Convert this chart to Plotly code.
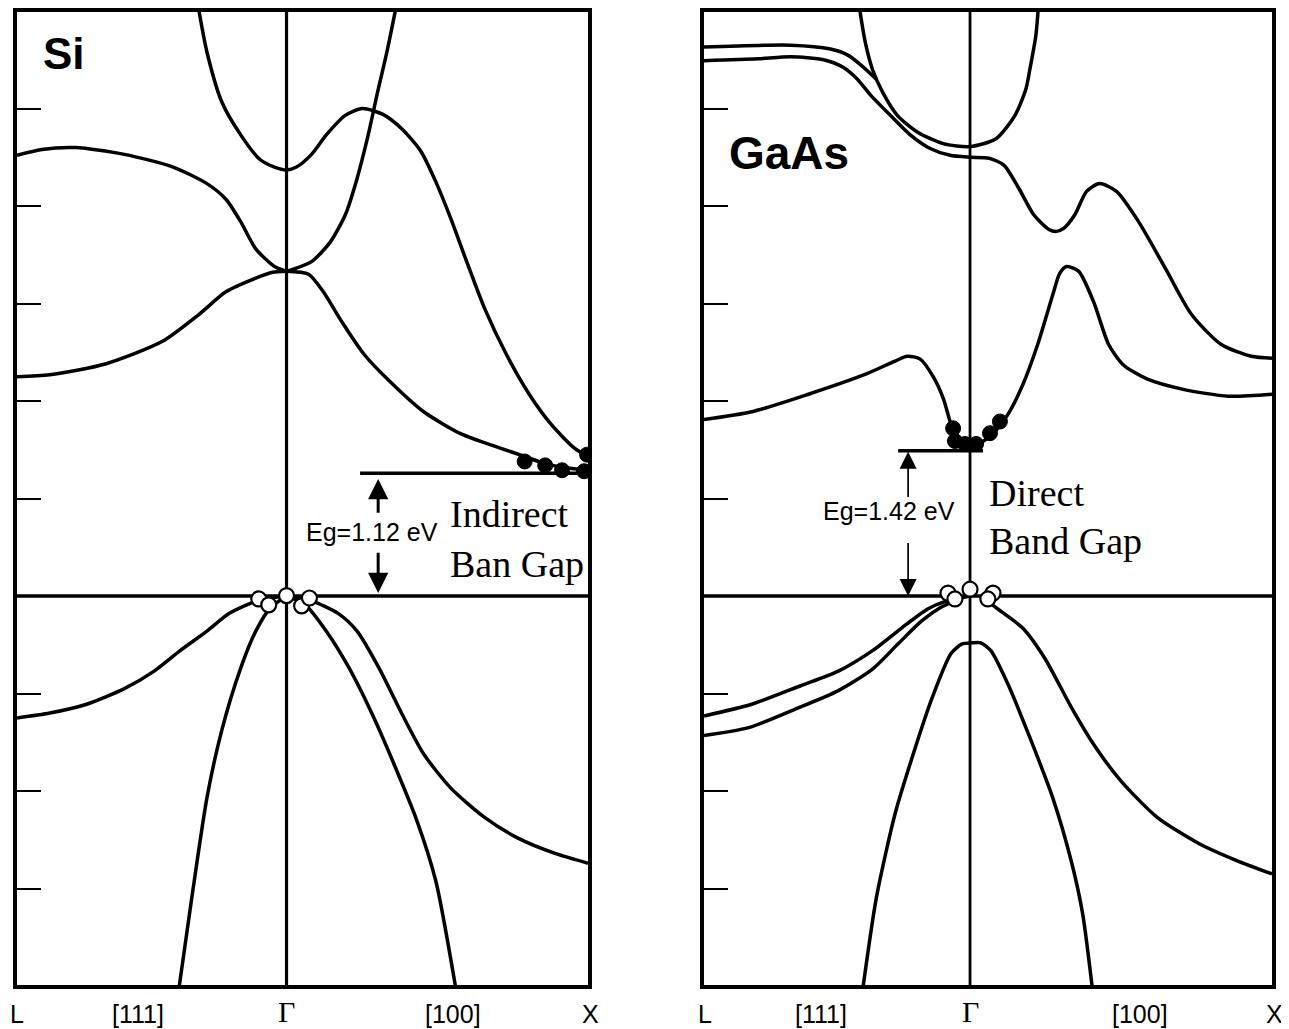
import plotly.graph_objects as go

# ---------------- axis ranges (k along L-Γ-X path, E in eV-like units) ----------
SI_K_RANGE = [-0.894, 1.0]
GAAS_K_RANGE = [-0.881, 1.0]
E_RANGE = [-3.99, 5.99]
E_TICKS = [-3, -2, -1, 1, 2, 3, 4, 5]

TICK_LABELS = ["L", "[111]", "Γ", "[100]", "X"]
SI_TICK_K = [-0.894, -0.492, 0.0, 0.551, 1.0]
GAAS_TICK_K = [-0.878, -0.492, 0.0, 0.564, 1.0]
TICK_XSHIFT = [0, 0, 0, 0, 2]

# ---------------- Si bands ----------------
si_A_k = [-0.292, -0.264, -0.215, -0.152, -0.089, -0.040, 0.0, 0.033, 0.083, 0.132, 0.195, 0.251,
          0.320, 0.383, 0.446, 0.495, 0.545, 0.594, 0.657, 0.729, 0.805, 0.878, 0.954, 1.0]
si_A_E = [6.03, 5.58, 5.07, 4.73, 4.48, 4.40, 4.37, 4.40, 4.53, 4.73, 4.93, 5.00,
          4.94, 4.79, 4.56, 4.25, 3.87, 3.46, 2.95, 2.48, 2.07, 1.76, 1.52, 1.43]

si_B_k = [0.0, 0.083, 0.145, 0.195, 0.231, 0.271, 0.300, 0.333, 0.362]
si_B_E = [3.33, 3.43, 3.63, 3.91, 4.25, 4.73, 5.14, 5.58, 6.02]

si_C_k = [-0.894, -0.812, -0.700, -0.538, -0.376, -0.264, -0.201, -0.152, -0.102, -0.040, 0.0]
si_C_E = [4.52, 4.58, 4.60, 4.53, 4.40, 4.23, 4.07, 3.84, 3.56, 3.38, 3.33]

si_D_k = [0.0, 0.073, 0.122, 0.182, 0.257, 0.343, 0.455, 0.581, 0.706, 0.792, 0.855, 0.917, 1.0]
si_D_E = [3.33, 3.30, 3.12, 2.82, 2.48, 2.20, 1.89, 1.66, 1.52, 1.43, 1.36, 1.32, 1.29]

si_E_k = [-0.894, -0.785, -0.601, -0.413, -0.290, -0.201, -0.102, -0.046, 0.0]
si_E_E = [2.25, 2.27, 2.38, 2.61, 2.89, 3.12, 3.26, 3.32, 3.33]

si_F_k = [-0.894, -0.785, -0.663, -0.538, -0.439, -0.353, -0.264, -0.191, -0.116, -0.079, 0.0]
si_F_E = [-1.25, -1.20, -1.11, -0.95, -0.77, -0.56, -0.36, -0.18, -0.07, -0.03, 0.0]

si_G_k = [-0.358, -0.314, -0.264, -0.215, -0.152, -0.102, -0.053, 0.0]
si_G_E = [-4.05, -3.09, -2.07, -1.38, -0.74, -0.36, -0.12, 0.0]

si_H_k = [0.0, 0.059, 0.132, 0.208, 0.284, 0.356, 0.432, 0.495, 0.563]
si_H_E = [0.0, -0.08, -0.36, -0.74, -1.21, -1.72, -2.30, -2.92, -4.05]

si_I_k = [0.0, 0.083, 0.172, 0.234, 0.307, 0.383, 0.455, 0.545, 0.657, 0.766, 0.891, 1.0]
si_I_E = [0.0, -0.05, -0.18, -0.36, -0.74, -1.21, -1.62, -1.97, -2.27, -2.48, -2.64, -2.74]

si_electron_k = [0.790, 0.858, 0.914, 0.987, 0.997]
si_electron_E = [1.38, 1.34, 1.29, 1.28, 1.45]
si_hole_k = [-0.092, -0.059, 0.0, 0.050, 0.076]
si_hole_E = [-0.03, -0.09, 0.005, -0.10, -0.02]

si_Ec = 1.26
si_Ec_k = [0.244, 1.0]
si_gap_label = "Eg=1.12 eV"

# ---------------- GaAs bands ----------------
ga_a_k = [-0.366, -0.347, -0.323, -0.290, -0.241, -0.175, -0.089, 0.0, 0.086, 0.149, 0.185, 0.198, 0.218, 0.226]
ga_a_E = [6.03, 5.68, 5.40, 5.17, 4.93, 4.76, 4.64, 4.61, 4.69, 4.93, 5.20, 5.40, 5.75, 6.03]

ga_b_k = [-0.881, -0.594, -0.462, -0.406, -0.363, -0.310]
ga_b_E = [5.63, 5.65, 5.61, 5.55, 5.45, 5.30]

ga_c_k = [-0.881, -0.703, -0.594, -0.485, -0.419, -0.373, -0.330, -0.264, -0.198, -0.132, -0.066, 0.0,
          0.063, 0.112, 0.162, 0.211, 0.261, 0.287, 0.310, 0.347, 0.386, 0.429, 0.485, 0.558, 0.647,
          0.733, 0.832, 0.931, 1.0]
ga_c_E = [5.49, 5.51, 5.53, 5.50, 5.42, 5.30, 5.14, 4.93, 4.73, 4.59, 4.52, 4.50,
          4.49, 4.42, 4.18, 3.91, 3.76, 3.74, 3.77, 3.91, 4.15, 4.23, 4.15, 3.84, 3.36,
          2.89, 2.58, 2.46, 2.44]

ga_d_k = [-0.881, -0.723, -0.535, -0.350, -0.248, -0.208, -0.165, -0.122, -0.089, -0.066, -0.046, -0.023, 0.0]
ga_d_E = [1.81, 1.89, 2.07, 2.27, 2.41, 2.46, 2.43, 2.25, 2.03, 1.79, 1.61, 1.54, 1.52]

ga_e_k = [0.0, 0.036, 0.086, 0.125, 0.175, 0.224, 0.274, 0.297, 0.320, 0.360, 0.409, 0.459, 0.508,
          0.584, 0.706, 0.855, 1.0]
ga_e_E = [1.52, 1.57, 1.70, 1.86, 2.17, 2.58, 3.09, 3.31, 3.38, 3.33, 3.02, 2.58, 2.37,
          2.23, 2.12, 2.05, 2.07]

ga_f_k = [-0.881, -0.723, -0.561, -0.436, -0.323, -0.211, -0.139, -0.086, 0.0]
ga_f_E = [-1.23, -1.11, -0.92, -0.77, -0.56, -0.29, -0.13, -0.06, 0.0]

ga_g_k = [-0.881, -0.733, -0.571, -0.436, -0.323, -0.238, -0.162, -0.099, -0.050]
ga_g_E = [-1.43, -1.35, -1.15, -0.97, -0.75, -0.49, -0.26, -0.12, -0.05]

ga_h_k = [0.050, 0.086, 0.175, 0.248, 0.337, 0.409, 0.498, 0.620, 0.759, 0.881, 1.0]
ga_h_E = [-0.03, -0.12, -0.33, -0.64, -1.15, -1.52, -1.89, -2.27, -2.54, -2.71, -2.85]

ga_i_k = [-0.356, -0.310, -0.248, -0.188, -0.125, -0.063, -0.026, 0.007, 0.036, 0.069, 0.125, 0.198,
          0.274, 0.337, 0.373, 0.406]
ga_i_E = [-4.05, -3.09, -2.23, -1.62, -1.04, -0.59, -0.49, -0.48, -0.48, -0.56, -0.90, -1.45,
          -2.07, -2.74, -3.26, -4.05]

ga_electron_k = [-0.056, -0.050, -0.017, 0.020, 0.066, 0.099]
ga_electron_E = [1.72, 1.59, 1.56, 1.56, 1.67, 1.79]
ga_hole_k = [-0.073, -0.050, 0.0, 0.076, 0.059]
ga_hole_E = [0.03, -0.03, 0.07, 0.03, -0.03]

ga_Ec = 1.49
ga_Ec_k = [-0.238, 0.043]
ga_gap_label = "Eg=1.42 eV"

SANS = "Liberation Sans, Arial, Helvetica, sans-serif"
SERIF = "Liberation Serif, Times New Roman, serif"

# page layout: the HTML body has an 8px margin, so the figure is made smaller and
# the panel boxes are placed relative to that offset
W, H, OFF = 1281, 1021, 8


def px_x(p):
    return (p - OFF) / W


def px_y(p):
    return 1 - (p - OFF) / H


fig = go.Figure()
LW = 3.5


def band(k, E, xa, ya):
    fig.add_trace(go.Scatter(x=k, y=E, mode="lines", xaxis=xa, yaxis=ya,
                             line=dict(color="black", width=LW, shape="spline", smoothing=0.7),
                             hoverinfo="skip", showlegend=False))


for k, E in [(si_A_k, si_A_E), (si_B_k, si_B_E), (si_C_k, si_C_E), (si_D_k, si_D_E),
             (si_E_k, si_E_E), (si_F_k, si_F_E), (si_G_k, si_G_E), (si_H_k, si_H_E),
             (si_I_k, si_I_E)]:
    band(k, E, "x", "y")

for k, E in [(ga_a_k, ga_a_E), (ga_b_k, ga_b_E), (ga_c_k, ga_c_E), (ga_d_k, ga_d_E),
             (ga_e_k, ga_e_E), (ga_f_k, ga_f_E), (ga_g_k, ga_g_E), (ga_h_k, ga_h_E),
             (ga_i_k, ga_i_E)]:
    band(k, E, "x2", "y2")

# conduction band minimum lines
fig.add_trace(go.Scatter(x=si_Ec_k, y=[si_Ec, si_Ec], mode="lines", xaxis="x", yaxis="y",
                         line=dict(color="black", width=LW), hoverinfo="skip", showlegend=False))
fig.add_trace(go.Scatter(x=ga_Ec_k, y=[ga_Ec, ga_Ec], mode="lines", xaxis="x2", yaxis="y2",
                         line=dict(color="black", width=LW), hoverinfo="skip", showlegend=False))

# electrons (filled) and holes (open)
for k, E, xa, ya in [(si_electron_k, si_electron_E, "x", "y"), (ga_electron_k, ga_electron_E, "x2", "y2")]:
    fig.add_trace(go.Scatter(x=k, y=E, mode="markers", xaxis=xa, yaxis=ya,
                             marker=dict(size=15, color="black", line=dict(color="black", width=1)),
                             hoverinfo="skip", showlegend=False))
for k, E, xa, ya in [(si_hole_k, si_hole_E, "x", "y"), (ga_hole_k, ga_hole_E, "x2", "y2")]:
    fig.add_trace(go.Scatter(x=k, y=E, mode="markers", xaxis=xa, yaxis=ya,
                             marker=dict(size=15, color="white", line=dict(color="black", width=2.2)),
                             hoverinfo="skip", showlegend=False))

shapes = []
for xr, yr, krange, gw in [("x", "y", SI_K_RANGE, 3.2), ("x2", "y2", GAAS_K_RANGE, 2.8)]:
    # Gamma vertical line
    shapes.append(dict(type="line", xref=xr, yref=yr, x0=0, x1=0, y0=E_RANGE[0], y1=E_RANGE[1],
                       line=dict(color="black", width=gw), layer="below"))
    # valence band maximum line
    shapes.append(dict(type="line", xref=xr, yref=yr, x0=krange[0], x1=krange[1], y0=0, y1=0,
                       line=dict(color="black", width=LW), layer="below"))

annotations = []
for xr, ks in [("x", SI_TICK_K), ("x2", GAAS_TICK_K)]:
    for lab, kk, xs in zip(TICK_LABELS, ks, TICK_XSHIFT):
        if lab == "Γ":
            f = dict(family=SERIF, size=30, color="black")
            yy = px_y(1011)
        else:
            f = dict(family=SANS, size=25, color="black")
            yy = px_y(1014)
        annotations.append(dict(x=kk, y=yy, xref=xr, yref="paper", text=lab, showarrow=False,
                                xshift=xs, xanchor="center", yanchor="middle", font=f))

# material labels
annotations.append(dict(x=-0.739, y=5.56, xref="x", yref="y", text="Si", showarrow=False,
                        font=dict(family=SANS, size=44, color="black", weight="bold")))
annotations.append(dict(x=-0.600, y=4.54, xref="x2", yref="y2", text="GaAs", showarrow=False,
                        font=dict(family=SANS, size=46, color="black", weight="bold")))

# gap labels
annotations.append(dict(x=0.284, y=0.66, xref="x", yref="y", text=si_gap_label, showarrow=False,
                        font=dict(family=SANS, size=25, color="black")))
annotations.append(dict(x=-0.270, y=0.87, xref="x2", yref="y2", text=ga_gap_label, showarrow=False,
                        font=dict(family=SANS, size=25, color="black")))
annotations.append(dict(x=0.535, y=0.84, xref="x", yref="y", text="Indirect",
                        showarrow=False, xanchor="left", font=dict(family=SERIF, size=38, color="black")))
annotations.append(dict(x=0.535, y=0.33, xref="x", yref="y", text="Ban Gap",
                        showarrow=False, xanchor="left", font=dict(family=SERIF, size=38, color="black")))
annotations.append(dict(x=0.056, y=1.06, xref="x2", yref="y2", text="Direct",
                        showarrow=False, xanchor="left", font=dict(family=SERIF, size=38, color="black")))
annotations.append(dict(x=0.056, y=0.56, xref="x2", yref="y2", text="Band Gap",
                        showarrow=False, xanchor="left", font=dict(family=SERIF, size=38, color="black")))

# gap arrows
for xr, yr, kx, tail, tip, w, s in [
    ("x", "y", 0.304, 0.84, 1.20, 3, 1.35),
    ("x", "y", 0.304, 0.46, 0.03, 3, 1.35),
    ("x2", "y2", -0.205, 1.00, 1.48, 1.7, 2.0),
    ("x2", "y2", -0.205, 0.56, 0.0, 1.7, 2.0),
]:
    annotations.append(dict(x=kx, y=tip, ax=kx, ay=tail, xref=xr, yref=yr, axref=xr, ayref=yr,
                            text="", showarrow=True, arrowhead=2, arrowwidth=w, arrowsize=s,
                            arrowcolor="black", standoff=0, startstandoff=0))

axis_common = dict(showgrid=False, zeroline=False, showline=True, linecolor="black", linewidth=4,
                   mirror=True, showticklabels=False, fixedrange=True)
y_dom = [px_y(985), px_y(10)]

fig.update_layout(
    width=W, height=H,
    margin=dict(l=0, r=0, t=0, b=0),
    paper_bgcolor="white", plot_bgcolor="white",
    showlegend=False,
    shapes=shapes, annotations=annotations,
    xaxis=dict(domain=[px_x(17), px_x(588)], range=SI_K_RANGE, ticks="", **axis_common),
    xaxis2=dict(domain=[px_x(704), px_x(1272)], range=GAAS_K_RANGE, ticks="", anchor="y2", **axis_common),
    yaxis=dict(domain=y_dom, range=E_RANGE, tickvals=E_TICKS, ticks="inside", ticklen=24,
               tickwidth=1.5, tickcolor="black", anchor="x", **axis_common),
    yaxis2=dict(domain=y_dom, range=E_RANGE, tickvals=E_TICKS, ticks="inside", ticklen=24,
                tickwidth=1.5, tickcolor="black", anchor="x2", **axis_common),
)

fig.write_html("out.html")
